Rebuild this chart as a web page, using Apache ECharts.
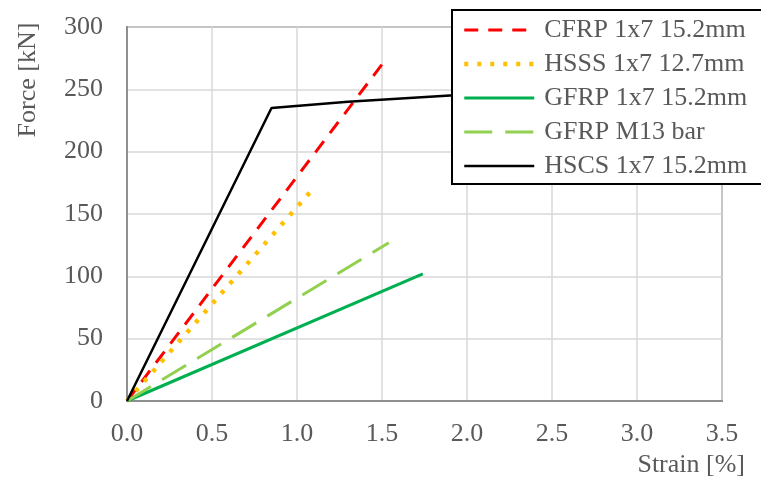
<!DOCTYPE html>
<html>
<head>
<meta charset="utf-8">
<script src="https://cdn.jsdelivr.net/npm/echarts@6/dist/echarts.min.js"></script>
<style>
  html, body { margin: 0; padding: 0; background: #fff; }
  #chart { width: 761px; height: 481px; }
</style>
</head>
<body>
<div id="chart"></div>
<script>
// Force–strain curves of the tested tendons, [strain %, force kN]
const seriesNames = [
  'CFRP 1x7 15.2mm',
  'HSSS 1x7 12.7mm',
  'GFRP 1x7 15.2mm',
  'GFRP M13 bar',
  'HSCS 1x7 15.2mm'
];
const cfrp = [[0, 0], [1.5, 270]];
const hsss = [[0, 0], [1.08, 168]];
const gfrpStrand = [[0, 0], [1.74, 102]];
const gfrpBar = [[0, 0], [1.54, 127]];
const hscs = [[0, 0], [0.85, 235], [1.3, 240], [1.9, 245], [2.5, 250]];

const xTicks = { min: 0, max: 3.5, step: 0.5 };
const yTicks = { min: 0, max: 300, step: 50 };

const textColor = '#595959';
const fontFamily = '"Liberation Serif", "Times New Roman", serif';

const chart = echarts.init(document.getElementById('chart'), null, { renderer: 'canvas' });

function lineSeries(name, data, color, width, dash) {
  return {
    name: name,
    type: 'line',
    data: data,
    symbol: 'none',
    showSymbol: false,
    animation: false,
    lineStyle: { color: color, width: width, type: dash },
    itemStyle: { color: color },
    z: 2
  };
}

chart.setOption({
  backgroundColor: '#ffffff',
  animation: false,
  grid: {
    left: 127, right: 39, top: 27, bottom: 80,
    show: true, borderColor: '#8f8f8f', borderWidth: 2, backgroundColor: 'transparent'
  },
  xAxis: {
    type: 'value',
    min: xTicks.min, max: xTicks.max, interval: xTicks.step,
    axisLine: { show: true, lineStyle: { color: '#8f8f8f', width: 2 } },
    axisTick: { show: false },
    splitLine: { show: true, lineStyle: { color: '#d9d9d9', width: 1.5 } },
    axisLabel: {
      color: textColor, fontFamily: fontFamily, fontSize: 26, margin: 20,
      formatter: v => v.toFixed(1)
    }
  },
  yAxis: {
    type: 'value',
    min: yTicks.min, max: yTicks.max, interval: yTicks.step,
    axisLine: { show: true, lineStyle: { color: '#8f8f8f', width: 2 } },
    axisTick: { show: false },
    splitLine: { show: true, lineStyle: { color: '#d9d9d9', width: 1.5 } },
    axisLabel: { color: textColor, fontFamily: fontFamily, fontSize: 26, margin: 24 }
  },
  legend: {
    data: seriesNames,
    orient: 'vertical',
    left: 452, top: 10,
    padding: [7, 30, 5, 10],
    itemWidth: 70, itemHeight: 14, itemGap: 8,
    backgroundColor: '#ffffff',
    borderColor: '#000000', borderWidth: 2,
    itemStyle: { color: 'transparent', borderWidth: 0, opacity: 0 },
    lineStyle: { width: 'inherit', type: 'inherit' },
    textStyle: { color: textColor, fontFamily: fontFamily, fontSize: 26, padding: [0, 0, 0, 5] },
    z: 10
  },
  graphic: [
    {
      type: 'text', x: 28, y: 80, rotation: Math.PI / 2,
      style: {
        text: 'Force [kN]', fill: textColor, font: '26px ' + fontFamily,
        textAlign: 'center', textVerticalAlign: 'middle'
      }
    },
    {
      type: 'text', x: 745, y: 465,
      style: {
        text: 'Strain [%]', fill: textColor, font: '26px ' + fontFamily,
        textAlign: 'right', textVerticalAlign: 'middle'
      }
    }
  ],
  series: [
    lineSeries(seriesNames[0], cfrp, '#ff0000', 3, [14, 10]),
    lineSeries(seriesNames[1], hsss, '#ffc000', 4.5, [4, 9]),
    lineSeries(seriesNames[2], gfrpStrand, '#00b050', 3, 'solid'),
    lineSeries(seriesNames[3], gfrpBar, '#92d050', 3, [28, 13]),
    lineSeries(seriesNames[4], hscs, '#000000', 2.5, 'solid')
  ]
});
</script>
</body>
</html>
